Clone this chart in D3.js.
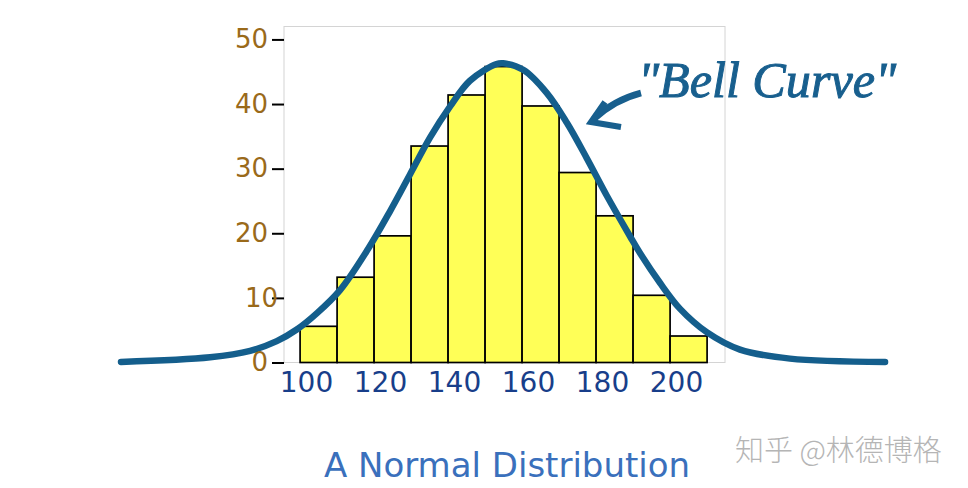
<!DOCTYPE html>
<html>
<head>
<meta charset="utf-8">
<script src="https://cdn.jsdelivr.net/npm/d3@7"></script>
<style>
  html, body { margin: 0; padding: 0; background: #ffffff; }
  svg { display: block; }
</style>
</head>
<body>
<svg id="chart" width="968" height="488"></svg>
<script>
// ---- data ----
const binStarts = [98.4, 108.4, 118.4, 128.4, 138.4, 148.4, 158.4, 168.4, 178.4, 188.4, 198.4];
const binWidth = 10;
const counts = [5.6, 13.2, 19.6, 33.5, 41.4, 45.8, 39.7, 29.4, 22.7, 10.4, 4.1];
const curveX = [50.0, 74.1, 84.9, 92.1, 97.5, 102.9, 109.2, 116.8, 122.7, 128.1, 133.5, 138.9, 144.3, 151.5, 153.3,
                158.7, 165.1, 170.5, 175.9, 181.3, 187.6, 190.3, 195.7, 201.1, 208.3, 217.3, 230.8, 256.5];
const curveY = [0.09, 0.8, 1.8, 3.3, 5.1, 7.6, 11.2, 17.6, 23.4, 29.1, 34.8, 39.6, 43.6, 46.2, 46.3,
                45.3, 41.7, 37.1, 31.6, 25.8, 19.5, 16.9, 12.3, 8.3, 4.7, 2.0, 0.6, 0.09];
const xTicks = [100, 120, 140, 160, 180, 200];
const yTicks = [0, 10, 20, 30, 40, 50];
const title = "A Normal Distribution";
const annotation = "\"Bell Curve\"";
const watermark = "知乎 @林德博格";

// ---- layout ----
const svg = d3.select("#chart");
const plot = { left: 284, right: 725, top: 26.5, bottom: 362.5 };
const x = d3.scaleLinear().domain([94.05, 213.24]).range([plot.left, plot.right]);
const y = d3.scaleLinear().domain([0, 52]).range([plot.bottom, plot.top]);

// frame
svg.append("rect")
  .attr("x", plot.left).attr("y", plot.top)
  .attr("width", plot.right - plot.left).attr("height", plot.bottom - plot.top)
  .attr("fill", "none").attr("stroke", "#d4d4d4").attr("stroke-width", 1);

// bars
const bars = binStarts.map((s, i) => ({ s, v: counts[i] }));
svg.append("g").selectAll("rect").data(bars).join("rect")
  .attr("x", d => x(d.s))
  .attr("width", d => x(d.s + binWidth) - x(d.s))
  .attr("y", d => y(d.v))
  .attr("height", d => y(0) - y(d.v))
  .attr("fill", "#ffff57")
  .attr("stroke", "#000")
  .attr("stroke-width", 1.7);

// bell curve
const pts = curveX.map((v, i) => [v, curveY[i]]);
svg.append("path")
  .datum(pts)
  .attr("d", d3.line().x(d => x(d[0])).y(d => y(d[1])).curve(d3.curveCatmullRom.alpha(0.5)))
  .attr("fill", "none")
  .attr("stroke", "#145e8c")
  .attr("stroke-width", 6.5)
  .attr("stroke-linecap", "round");

// y axis
const yAxis = svg.append("g")
  .attr("transform", `translate(${plot.left},0)`)
  .call(d3.axisLeft(y).tickValues(yTicks).tickSize(12).tickPadding(4).tickFormat(d3.format("d")));
yAxis.select(".domain").remove();
yAxis.selectAll(".tick line").attr("stroke", "#000").attr("stroke-width", 2);
yAxis.selectAll(".tick text")
  .attr("fill", "#9a6a1a")
  .style("font-family", "'DejaVu Sans', Verdana, sans-serif")
  .style("font-size", "26px")
  .attr("dx", d => d === 10 ? 10 : 0);

// x axis
const xAxis = svg.append("g")
  .attr("transform", `translate(0,${plot.bottom})`)
  .call(d3.axisBottom(x).tickValues(xTicks).tickSize(0).tickPadding(10).tickFormat(d3.format("d")));
xAxis.select(".domain").remove();
xAxis.selectAll(".tick text")
  .attr("fill", "#183e8a")
  .style("font-family", "'DejaVu Sans', Verdana, sans-serif")
  .style("font-size", "28px");

// annotation text
svg.append("text")
  .attr("x", 638).attr("y", 97)
  .attr("fill", "#185f8e")
  .attr("stroke", "#185f8e")
  .attr("stroke-width", 1)
  .style("font-family", "'Liberation Serif', 'DejaVu Serif', serif")
  .style("font-style", "italic")
  .style("font-size", "51px")
  .attr("textLength", 258)
  .attr("lengthAdjust", "spacingAndGlyphs")
  .text(annotation);

// annotation arrow
svg.append("path")
  .attr("d", "M641,93 Q614,100 594,119")
  .attr("fill", "none").attr("stroke", "#185f8e").attr("stroke-width", 6.5).attr("stroke-linecap", "butt");
svg.append("path")
  .attr("d", "M605,102 L591,122 L621,127")
  .attr("fill", "none").attr("stroke", "#185f8e").attr("stroke-width", 6).attr("stroke-linejoin", "miter");

// title
svg.append("text")
  .attr("x", 507).attr("y", 477)
  .attr("text-anchor", "middle")
  .attr("fill", "#3a70bc")
  .style("font-family", "'DejaVu Sans', Verdana, sans-serif")
  .style("font-size", "34px")
  .text(title);

// watermark
svg.append("text")
  .attr("x", 735).attr("y", 461)
  .attr("fill", "#b5b5b5")
  .style("font-family", "'Noto Sans CJK SC', sans-serif")
  .style("font-size", "29px")
  .style("font-weight", 300)
  .text(watermark);
</script>
</body>
</html>
